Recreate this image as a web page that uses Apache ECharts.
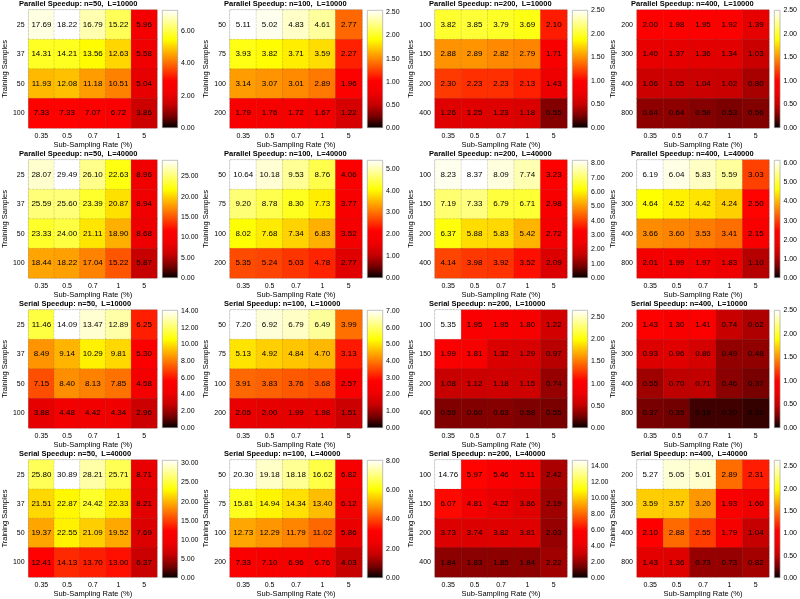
<!DOCTYPE html>
<html>
<head>
<meta charset="utf-8">
<script src="https://cdn.jsdelivr.net/npm/echarts@6/dist/echarts.min.js"></script>
<style>
  html, body { margin: 0; padding: 0; background: #fff; }
  #chart { width: 800px; height: 599px; }
</style>
</head>
<body>
<div id="chart"></div>
<script>
// categories
var rates = ['0.35', '0.5', '0.7', '1', '5'];
var samples50 = ['25', '37', '50', '100'];
var samples100 = ['50', '75', '100', '200'];
var samples200 = ['100', '150', '200', '400'];
var samples400 = ['200', '300', '400', '800'];

// values: one row per training-sample size, one column per sub-sampling rate
var par50_10k = [[17.69, 18.22, 16.79, 15.22, 5.96], [14.31, 14.21, 13.56, 12.63, 5.58], [11.93, 12.08, 11.18, 10.51, 5.04], [7.33, 7.33, 7.07, 6.72, 3.86]];
var par100_10k = [[5.11, 5.02, 4.83, 4.61, 2.77], [3.93, 3.82, 3.71, 3.59, 2.27], [3.14, 3.07, 3.01, 2.89, 1.96], [1.79, 1.76, 1.72, 1.67, 1.22]];
var par200_10k = [[3.82, 3.85, 3.79, 3.69, 2.10], [2.88, 2.89, 2.82, 2.79, 1.71], [2.30, 2.23, 2.23, 2.13, 1.43], [1.26, 1.25, 1.23, 1.18, 0.55]];
var par400_10k = [[2.00, 1.98, 1.95, 1.92, 1.39], [1.40, 1.37, 1.36, 1.34, 1.03], [1.06, 1.05, 1.04, 1.02, 0.80], [0.64, 0.64, 0.58, 0.53, 0.56]];
var par50_40k = [[28.07, 29.49, 26.10, 22.63, 8.96], [25.59, 25.60, 23.39, 20.87, 8.94], [23.33, 24.00, 21.11, 18.90, 8.68], [18.44, 18.22, 17.04, 15.22, 5.87]];
var par100_40k = [[10.64, 10.18, 9.53, 8.76, 4.06], [9.20, 8.78, 8.30, 7.73, 3.77], [8.02, 7.68, 7.34, 6.83, 3.52], [5.35, 5.24, 5.03, 4.78, 2.77]];
var par200_40k = [[8.23, 8.37, 8.09, 7.74, 3.23], [7.19, 7.33, 6.79, 6.71, 2.98], [6.37, 5.88, 5.83, 5.42, 2.72], [4.14, 3.98, 3.92, 3.52, 2.09]];
var par400_40k = [[6.19, 6.04, 5.83, 5.59, 3.03], [4.64, 4.52, 4.42, 4.24, 2.50], [3.66, 3.60, 3.53, 3.41, 2.15], [2.01, 1.99, 1.97, 1.83, 1.10]];
var ser50_10k = [[11.46, 14.09, 13.47, 12.89, 6.25], [8.49, 9.14, 10.29, 9.81, 5.30], [7.15, 8.40, 8.13, 7.85, 4.58], [3.88, 4.48, 4.42, 4.34, 2.96]];
var ser100_10k = [[7.20, 6.92, 6.79, 6.49, 3.99], [5.13, 4.92, 4.84, 4.70, 3.13], [3.91, 3.83, 3.76, 3.68, 2.57], [2.05, 2.00, 1.99, 1.98, 1.51]];
var ser200_10k = [[5.35, 1.95, 1.95, 1.80, 1.22], [1.99, 1.81, 1.32, 1.29, 0.97], [1.08, 1.12, 1.18, 1.15, 0.74], [0.59, 0.60, 0.63, 0.58, 0.55]];
var ser400_10k = [[1.43, 1.30, 1.41, 0.74, 0.62], [0.93, 0.96, 0.86, 0.49, 0.48], [0.55, 0.70, 0.71, 0.46, 0.37], [0.37, 0.35, 0.19, 0.20, 0.16]];
var ser50_40k = [[25.80, 30.89, 28.21, 25.71, 8.71], [21.51, 22.87, 24.42, 22.33, 8.21], [19.37, 22.55, 21.09, 19.52, 7.69], [12.41, 14.13, 13.70, 13.00, 6.37]];
var ser100_40k = [[20.30, 19.18, 18.18, 16.62, 6.82], [15.81, 14.94, 14.34, 13.40, 6.12], [12.73, 12.29, 11.79, 11.02, 5.86], [7.33, 7.10, 6.96, 6.76, 4.03]];
var ser200_40k = [[14.76, 5.97, 5.46, 5.11, 2.42], [6.07, 4.81, 4.22, 3.86, 2.19], [3.73, 3.74, 3.82, 3.81, 2.03], [1.84, 1.83, 1.85, 1.84, 2.22]];
var ser400_40k = [[5.27, 5.05, 5.01, 2.89, 2.31], [3.59, 3.57, 3.20, 1.93, 1.60], [2.10, 2.88, 2.55, 1.79, 1.04], [1.43, 1.36, 0.73, 0.73, 0.82]];

var titles = [
  'Parallel Speedup: n=50,  L=10000', 'Parallel Speedup: n=100,  L=10000', 'Parallel Speedup: n=200,  L=10000', 'Parallel Speedup: n=400,  L=10000',
  'Parallel Speedup: n=50,  L=40000', 'Parallel Speedup: n=100,  L=40000', 'Parallel Speedup: n=200,  L=40000', 'Parallel Speedup: n=400,  L=40000',
  'Serial Speedup: n=50,  L=10000', 'Serial Speedup: n=100,  L=10000', 'Serial Speedup: n=200,  L=10000', 'Serial Speedup: n=400,  L=10000',
  'Serial Speedup: n=50,  L=40000', 'Serial Speedup: n=100,  L=40000', 'Serial Speedup: n=200,  L=40000', 'Serial Speedup: n=400,  L=40000'
];
var panelValues = [par50_10k, par100_10k, par200_10k, par400_10k, par50_40k, par100_40k, par200_40k, par400_40k,
  ser50_10k, ser100_10k, ser200_10k, ser400_10k, ser50_40k, ser100_40k, ser200_40k, ser400_40k];
var panelSamples = [samples50, samples100, samples200, samples400];

// colour bar tick labels (top value and step) and the value that maps to white in the cells
var barMax = [7.3, 2.55, 2.5, 2.5, 29, 5.4, 8.23, 6.17, 14.1, 7.05, 2.66, 2.5, 30.9, 8.07, 14.76, 2.64];
var barStep = [2, 0.5, 0.5, 0.5, 5, 1, 1, 1, 2, 1, 0.5, 0.5, 5, 2, 2, 0.5];
var colorTop = [18.22, 5.11, 4.8, 5.0, 29.49, 10.64, 8.37, 6.19, 14.09, 7.20, 5.35, 3.7, 30.89, 20.30, 14.76, 5.27];

// black -> red -> yellow -> white, red rising fast at the low end
var hotStops = [[0, 0, 0, 0], [0.1, 120, 0, 0], [0.2, 200, 0, 0], [0.3, 240, 0, 0], [0.4, 255, 0, 0], [0.75, 255, 255, 0], [1, 255, 255, 255]];
function hotAt(t) {
  for (var k = 1; k < hotStops.length; k++) {
    if (t <= hotStops[k][0] + 1e-9) {
      var a = hotStops[k - 1], b = hotStops[k], f = (t - a[0]) / (b[0] - a[0]);
      return 'rgb(' + [1, 2, 3].map(function (j) { return Math.round(a[j] + (b[j] - a[j]) * f); }).join(',') + ')';
    }
  }
  return 'rgb(255,255,255)';
}
var hot = [];
for (var s = 0; s <= 20; s++) hot.push(hotAt(s / 20));
var barStops = hotStops.map(function (p) {
  return { offset: 1 - p[0], color: 'rgb(' + p[1] + ',' + p[2] + ',' + p[3] + ')' };
}).reverse();

var colLeft = [25, 230, 435, 637];
var rowTop = [10, 160, 310, 460];
var gridW = 132, gridH = 118;

var myChart = echarts.init(document.getElementById('chart'));
var grid = [], xAxis = [], yAxis = [], series = [], visualMap = [], title = [];

panelValues.forEach(function (vals, i) {
  var r = Math.floor(i / 4), c = i % 4;
  var cells = [];
  vals.forEach(function (row, yi) {
    row.forEach(function (v, xi) { cells.push([xi, yi, v]); });
  });
  var step = barStep[i];

  grid.push({ left: colLeft[c], top: rowTop[r], width: gridW, height: gridH, show: true, borderColor: '#bbb', borderWidth: 1, backgroundColor: 'transparent' });
  grid.push({ left: colLeft[c] + gridW + 5, top: rowTop[r], width: 16, height: gridH });

  xAxis.push({
    gridIndex: 2 * i, type: 'category', data: rates,
    axisLine: { show: false }, axisTick: { show: false }, splitLine: { show: false },
    axisLabel: { fontSize: 7, margin: 5, color: '#000' },
    name: 'Sub-Sampling Rate (%)', nameLocation: 'middle', nameGap: 13,
    nameTextStyle: { fontSize: 7.5, color: '#000' }
  });
  yAxis.push({
    gridIndex: 2 * i, type: 'category', inverse: true, data: panelSamples[c],
    axisLine: { show: false }, axisTick: { show: false }, splitLine: { show: false },
    axisLabel: { fontSize: 7, margin: 4, color: '#000' },
    name: 'Training Samples', nameLocation: 'middle', nameGap: 15,
    nameTextStyle: { fontSize: 7.5, color: '#000' }
  });
  xAxis.push({ gridIndex: 2 * i + 1, type: 'category', data: ['bar'], show: false });
  yAxis.push({
    gridIndex: 2 * i + 1, type: 'value', min: 0, max: barMax[i], interval: step, position: 'right',
    axisLine: { show: false }, axisTick: { show: false }, splitLine: { show: false },
    axisLabel: {
      fontSize: 7, margin: 3, color: '#000',
      formatter: function (v) {
        return Math.abs(v / step - Math.round(v / step)) < 1e-6 ? v.toFixed(2) : '';
      }
    }
  });

  series.push({
    type: 'heatmap', xAxisIndex: 2 * i, yAxisIndex: 2 * i, data: cells,
    label: { show: true, fontSize: 8, color: '#000', formatter: function (p) { return p.value[2].toFixed(2); } },
    itemStyle: { borderColor: 'rgba(80,80,80,0.3)', borderWidth: 0.6, borderType: 'dashed' },
    emphasis: { disabled: true }
  });
  series.push({
    type: 'bar', xAxisIndex: 2 * i + 1, yAxisIndex: 2 * i + 1, data: [barMax[i]], barWidth: '100%', silent: true,
    itemStyle: {
      borderColor: '#999', borderWidth: 0.6,
      color: new echarts.graphic.LinearGradient(0, 0, 0, 1, barStops)
    }
  });
  visualMap.push({ show: false, seriesIndex: 2 * i, dimension: 2, min: 0, max: colorTop[i], inRange: { color: hot } });
  title.push({
    text: titles[i], left: colLeft[c] - 6, top: rowTop[r] - 10, padding: 0,
    textStyle: { fontSize: 7.5, fontWeight: 'bold', color: '#000' }
  });
});

myChart.setOption({
  animation: false,
  textStyle: { fontFamily: '"Liberation Sans", Arial, Helvetica, sans-serif' },
  title: title,
  grid: grid,
  xAxis: xAxis,
  yAxis: yAxis,
  visualMap: visualMap,
  series: series
});
</script>
</body>
</html>
